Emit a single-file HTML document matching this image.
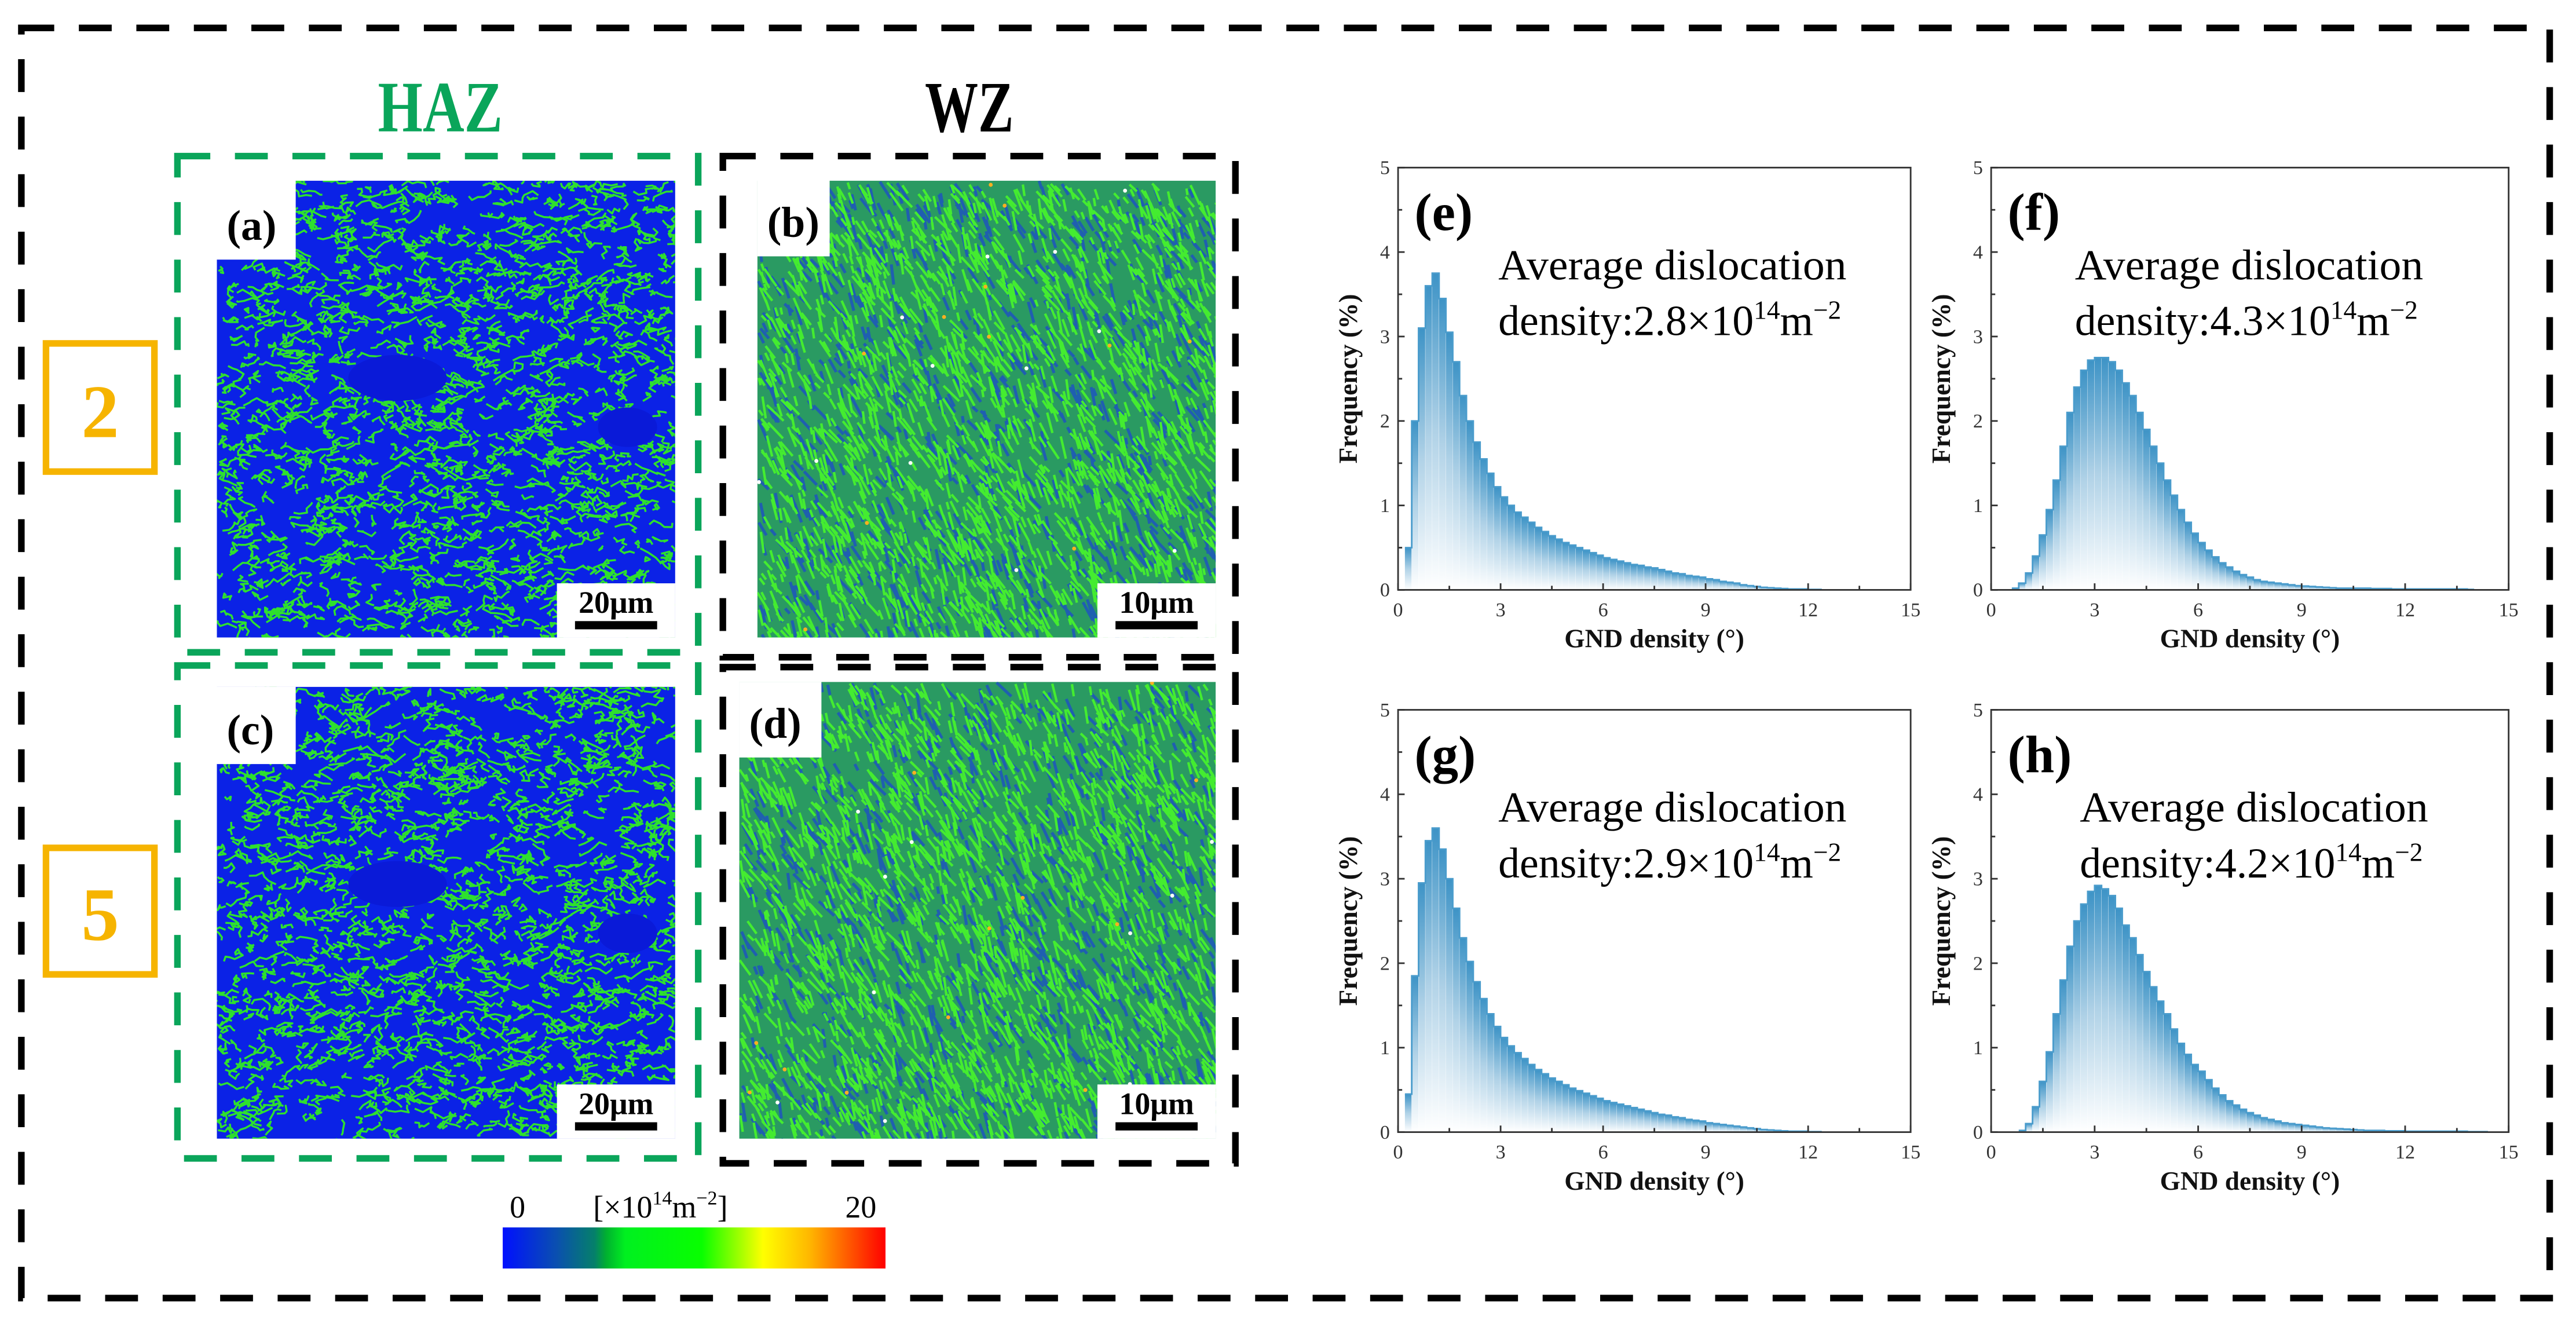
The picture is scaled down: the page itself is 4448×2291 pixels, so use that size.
<!DOCTYPE html>
<html><head><meta charset="utf-8"><style>
html,body{margin:0;padding:0;background:#fff;}
svg{display:block;font-family:"Liberation Serif",serif;}
</style></head><body>
<svg id="fig" width="4448" height="2291" viewBox="0 0 1568 807.6" preserveAspectRatio="none" xmlns="http://www.w3.org/2000/svg">
<defs>
<linearGradient id="barGrad" x1="0" y1="0" x2="0" y2="1">
<stop offset="0" stop-color="#3d93c6"/><stop offset="0.5" stop-color="#b0d2e7"/><stop offset="1" stop-color="#ffffff"/>
</linearGradient>
<linearGradient id="cbarGrad" x1="0" y1="0" x2="1" y2="0">
<stop offset="0" stop-color="#0010ff"/><stop offset="0.14" stop-color="#0a4fb0"/><stop offset="0.24" stop-color="#05806a"/>
<stop offset="0.27" stop-color="#00b030"/><stop offset="0.32" stop-color="#00f020"/><stop offset="0.52" stop-color="#08ff00"/>
<stop offset="0.68" stop-color="#ffff00"/><stop offset="0.8" stop-color="#ffb800"/><stop offset="1" stop-color="#ff0000"/>
</linearGradient>
<clipPath id="clipA"><rect x="132" y="110" width="279" height="278"/></clipPath>
<clipPath id="clipB"><rect x="461" y="110" width="279" height="278"/></clipPath>
<clipPath id="clipC"><rect x="132" y="418" width="279" height="275"/></clipPath>
<clipPath id="clipD"><rect x="450" y="415" width="290" height="278"/></clipPath>
</defs>

<rect x="13" y="17" width="1539" height="773" fill="none" stroke="#000" stroke-width="4" stroke-dasharray="20 15"/>

<text x="268" y="80" text-anchor="middle" font-size="44" font-weight="bold" fill="#0aa55a" textLength="76" lengthAdjust="spacingAndGlyphs">HAZ</text>
<text x="590" y="80" text-anchor="middle" font-size="44" font-weight="bold" fill="#000" textLength="54" lengthAdjust="spacingAndGlyphs">WZ</text>

<g>
<rect x="28" y="209" width="66" height="78" fill="none" stroke="#f6b400" stroke-width="4"/>
<text x="61" y="266" text-anchor="middle" font-size="46" font-weight="bold" fill="#f6b400">2</text>
</g>
<g>
<rect x="28" y="516" width="66" height="77" fill="none" stroke="#f6b400" stroke-width="4"/>
<text x="61" y="572" text-anchor="middle" font-size="46" font-weight="bold" fill="#f6b400">5</text>
</g>

<g id="maps"></g>

<rect x="108" y="95" width="317" height="302" fill="none" stroke="#0aa55a" stroke-width="4" stroke-dasharray="20 15"/>
<rect x="108" y="405" width="317" height="300" fill="none" stroke="#0aa55a" stroke-width="4" stroke-dasharray="20 15"/>
<rect x="440" y="95" width="312" height="305" fill="none" stroke="#000" stroke-width="4" stroke-dasharray="20 15"/>
<rect x="440" y="406" width="312" height="302" fill="none" stroke="#000" stroke-width="4" stroke-dasharray="20 15"/>

<g>
<rect x="306" y="747" width="233" height="25" fill="url(#cbarGrad)"/>
<text x="315" y="741" text-anchor="middle" font-size="19">0</text>
<text x="402" y="741" text-anchor="middle" font-size="19">[×10<tspan font-size="12" dy="-8">14</tspan><tspan dy="8">m</tspan><tspan font-size="12" dy="-8">−2</tspan><tspan dy="8">]</tspan></text>
<text x="524" y="741" text-anchor="middle" font-size="19">20</text>
</g>

<g id="charts"></g>
</svg>
<script>
// ---- histogram data (bin width 0.2, starting at 0) ----
const binWidth = 0.2;
const xTicks = [0, 3, 6, 9, 12, 15];
const yTicks = [0, 1, 2, 3, 4, 5];
const freqE = [0,0.5,2.0,3.1,3.6,3.75,3.45,3.05,2.7,2.3,2.0,1.75,1.55,1.38,1.22,1.1,1.0,0.92,0.86,0.8,0.74,0.69,0.64,0.6,0.56,0.53,0.5,0.47,0.44,0.41,0.38,0.36,0.34,0.32,0.3,0.29,0.27,0.26,0.24,0.22,0.2,0.19,0.17,0.16,0.15,0.13,0.12,0.1,0.09,0.08,0.06,0.05,0.04,0.03,0.025,0.02,0.015,0.01,0.01,0.01,0.005,0.005];
const freqF = [0,0,0,0.02,0.08,0.2,0.4,0.65,0.95,1.3,1.7,2.1,2.4,2.6,2.72,2.75,2.75,2.7,2.6,2.45,2.3,2.1,1.9,1.7,1.5,1.3,1.12,0.95,0.8,0.67,0.56,0.47,0.39,0.32,0.27,0.22,0.18,0.15,0.12,0.1,0.09,0.08,0.07,0.06,0.05,0.045,0.04,0.035,0.03,0.025,0.02,0.02,0.02,0.02,0.02,0.015,0.015,0.015,0.01,0.01,0.01,0.01,0.01,0.01,0.01,0.01,0.01,0.01,0.01,0.005];
const freqG = [0,0.45,1.85,2.95,3.45,3.6,3.35,3.0,2.65,2.3,2.02,1.78,1.58,1.4,1.25,1.12,1.02,0.94,0.87,0.8,0.74,0.69,0.64,0.6,0.56,0.52,0.49,0.46,0.43,0.4,0.37,0.35,0.33,0.31,0.29,0.27,0.25,0.23,0.21,0.2,0.18,0.17,0.15,0.14,0.13,0.11,0.1,0.09,0.08,0.07,0.06,0.05,0.04,0.03,0.025,0.02,0.015,0.01,0.01,0.01,0.005,0.005];
const freqH = [0,0,0,0,0.02,0.1,0.3,0.6,0.95,1.4,1.8,2.2,2.5,2.7,2.85,2.92,2.88,2.8,2.65,2.45,2.3,2.1,1.9,1.72,1.55,1.4,1.22,1.05,0.92,0.8,0.72,0.62,0.52,0.44,0.37,0.32,0.27,0.23,0.2,0.17,0.15,0.13,0.11,0.1,0.09,0.08,0.07,0.06,0.05,0.045,0.04,0.035,0.03,0.025,0.02,0.02,0.02,0.015,0.015,0.015,0.01,0.01,0.01,0.01,0.01,0.01,0.01,0.01,0.01,0.005,0.005,0.005];
const avgDensity = ["2.8", "4.3", "2.9", "4.2"];
const panelLetters = ["(e)", "(f)", "(g)", "(h)"];

const NS = "http://www.w3.org/2000/svg";
function mk(tag, attrs, parent) {
  const e = document.createElementNS(NS, tag);
  for (const k in attrs) e.setAttribute(k, attrs[k]);
  if (parent) parent.appendChild(e);
  return e;
}

const panels = [
  {data: freqE, x0: 851, y0: 102, w: 312, h: 257, tx: 61},
  {data: freqF, x0: 1212, y0: 102, w: 315, h: 257, tx: 51},
  {data: freqG, x0: 851, y0: 432, w: 312, h: 257, tx: 61},
  {data: freqH, x0: 1212, y0: 432, w: 315, h: 257, tx: 54}
];
const charts = document.getElementById('charts');
panels.forEach((p, pi) => {
  const g = mk('g', {}, charts);
  
  
  const xs = v => p.x0 + v / 15 * p.w;
  const ys = v => p.y0 + p.h - v / 5 * p.h;
  let d = '';
  p.data.forEach((v, i) => {
    if (v <= 0) return;
    const x1 = xs(i * binWidth), x2 = xs((i + 1) * binWidth);
    const b = mk('rect', {x: x1, y: ys(v), width: Math.max(x2 - x1 - 0.15, 0.3), height: ys(0) - ys(v), fill: 'url(#barGrad)'}, g);
    
    
    d += (d ? 'L' : 'M') + x1 + ' ' + ys(v) + 'L' + x2 + ' ' + ys(v);
  });
  const ol = mk('path', {d: d, fill: 'none', stroke: '#4a9ccc', 'stroke-width': 1}, g);
  
  
  const frame = mk('rect', {x: p.x0, y: p.y0, width: p.w, height: p.h, fill: 'none', stroke: '#333', 'stroke-width': 1}, g);
  
  
  for (let v = 0; v <= 15; v += 1.5) {
    const major = (v % 3 === 0);
    mk('line', {x1: xs(v), x2: xs(v), y1: ys(0), y2: ys(0) - (major ? 4 : 2.5), stroke: '#333', 'stroke-width': 1}, g);
  }
  for (let v = 0; v <= 5; v += 0.5) {
    const major = (v % 1 === 0);
    mk('line', {x1: p.x0, x2: p.x0 + (major ? 4 : 2.5), y1: ys(v), y2: ys(v), stroke: '#333', 'stroke-width': 1}, g);
  }
  xTicks.forEach(v => {
    const t = mk('text', {x: xs(v), y: ys(0) + 16, 'text-anchor': 'middle', 'font-size': 12, fill: '#333'}, g);
    
    
    t.textContent = v;
  });
  yTicks.forEach(v => {
    const t = mk('text', {x: p.x0 - 5, y: ys(v) + 4, 'text-anchor': 'end', 'font-size': 12, fill: '#333'}, g);
    
    
    t.textContent = v;
  });
  const xt = mk('text', {x: p.x0 + p.w / 2, y: p.y0 + p.h + 35, 'text-anchor': 'middle', 'font-size': 16, 'font-weight': 'bold', fill: '#111'}, g);
  
  
  xt.textContent = 'GND density (°)';
  const yx = p.x0 - 25, yy = p.y0 + p.h / 2;
  const yt = mk('text', {x: yx, y: yy, 'text-anchor': 'middle', 'font-size': 16, 'font-weight': 'bold', fill: '#111', transform: 'rotate(-90 ' + yx + ' ' + yy + ')'}, g);
  
  
  yt.textContent = 'Frequency (%)';
  const lt = mk('text', {x: p.x0 + 10, y: p.y0 + 38, 'font-size': 32, 'font-weight': 'bold', fill: '#000'}, g);
  
  
  lt.textContent = panelLetters[pi];
  const a1 = mk('text', {x: p.x0 + p.tx, y: p.y0 + 68, 'font-size': 26, fill: '#000', textLength: 212, lengthAdjust: 'spacingAndGlyphs'}, g);
  
  
  a1.textContent = 'Average dislocation';
  const a2 = mk('text', {x: p.x0 + p.tx, y: p.y0 + 102, 'font-size': 26, fill: '#000'}, g);
  
  
  a2.innerHTML = 'density:' + avgDensity[pi] + '×10<tspan font-size="16" dy="-10">14</tspan><tspan dy="10">m</tspan><tspan font-size="16" dy="-10">−2</tspan>';
});

// ---- GND maps (procedural texture, not chart data) ----
function rng(seed) { return function () { seed |= 0; seed = seed + 0x6D2B79F5 | 0; let t = Math.imul(seed ^ seed >>> 15, 1 | seed); t = t + Math.imul(t ^ t >>> 7, 61 | t) ^ t; return ((t ^ t >>> 14) >>> 0) / 4294967296; }; }
const maps = document.getElementById('maps');
function drawMap(name, x, y, w, h, clip, type, seed, label, scale, notchW, notchH) {
  const g = mk('g', {'clip-path': 'url(#' + clip + ')'}, maps);
  
  
  const R = rng(seed);
  if (type === 'haz') {
    mk('rect', {x: x, y: y, width: w, height: h, fill: '#0b22e6'}, g);
    let d = '';
    for (let i = 0; i < 1500; i++) {
      let px = x + R() * w, py = y + R() * h;
      d += 'M' + px.toFixed(1) + ' ' + py.toFixed(1);
      for (let s = 0; s < 5; s++) {
        px += (R() - 0.35) * 8; py += (R() - 0.5) * 6;
        d += 'L' + px.toFixed(1) + ' ' + py.toFixed(1);
      }
    }
    mk('path', {d: d, fill: 'none', stroke: '#2ee02e', 'stroke-width': 1.2, 'stroke-linejoin': 'round'}, g);
    mk('ellipse', {cx: x + 110, cy: y + 120, rx: 30, ry: 14, fill: '#0a1ad8'}, g);
    mk('ellipse', {cx: x + 250, cy: y + 150, rx: 18, ry: 12, fill: '#0a1ad8'}, g);
  } else {
    mk('rect', {x: x, y: y, width: w, height: h, fill: '#2a9a62'}, g);
    let d1 = '', d2 = '';
    for (let i = 0; i < 3000; i++) {
      const px = x + R() * w, py = y + R() * h, L = 4 + R() * 10, a = 1.1 + (R() - 0.5) * 0.7;
      const s = 'M' + px.toFixed(1) + ' ' + py.toFixed(1) + 'l' + (Math.cos(a) * L).toFixed(1) + ' ' + (Math.sin(a) * L).toFixed(1);
      if (R() < 0.68) d1 += s; else d2 += s;
    }
    mk('path', {d: d2, fill: 'none', stroke: '#1f5fb0', 'stroke-width': 1.8}, g);
    mk('path', {d: d1, fill: 'none', stroke: '#44ec30', 'stroke-width': 1.5}, g);
    for (let i = 0; i < 25; i++) {
      mk('circle', {cx: x + R() * w, cy: y + R() * h, r: 1.2, fill: R() < 0.5 ? '#ffb020' : '#ffffff'}, g);
    }
  }
  mk('rect', {x: x - 1, y: y - 1, width: notchW + 1, height: notchH + 1, fill: '#fff'}, g);
  mk('rect', {x: x + w - 72, y: y + h - 33, width: 73, height: 34, fill: '#fff'}, g);
  const lt = mk('text', {x: x + 6, y: y + notchH - 12, 'font-size': 26, 'font-weight': 'bold', fill: '#000'}, maps);
  
  
  lt.textContent = label;
  const st = mk('text', {x: x + w - 36, y: y + h - 15, 'text-anchor': 'middle', 'font-size': 19, 'font-weight': 'bold', fill: '#000'}, maps);
  
  
  st.textContent = scale;
  const sb = mk('rect', {x: x + w - 61, y: y + h - 10, width: 50, height: 5, fill: '#000'}, maps);
  
  
}
drawMap('gnd-map-a', 132, 110, 279, 278, 'clipA', 'haz', 11, '(a)', '20μm', 48, 48);
drawMap('gnd-map-b', 461, 110, 279, 278, 'clipB', 'wz', 22, '(b)', '10μm', 44, 46);
drawMap('gnd-map-c', 132, 418, 279, 275, 'clipC', 'haz', 33, '(c)', '20μm', 48, 47);
drawMap('gnd-map-d', 450, 415, 290, 278, 'clipD', 'wz', 44, '(d)', '10μm', 50, 46);
</script>
</body></html>
